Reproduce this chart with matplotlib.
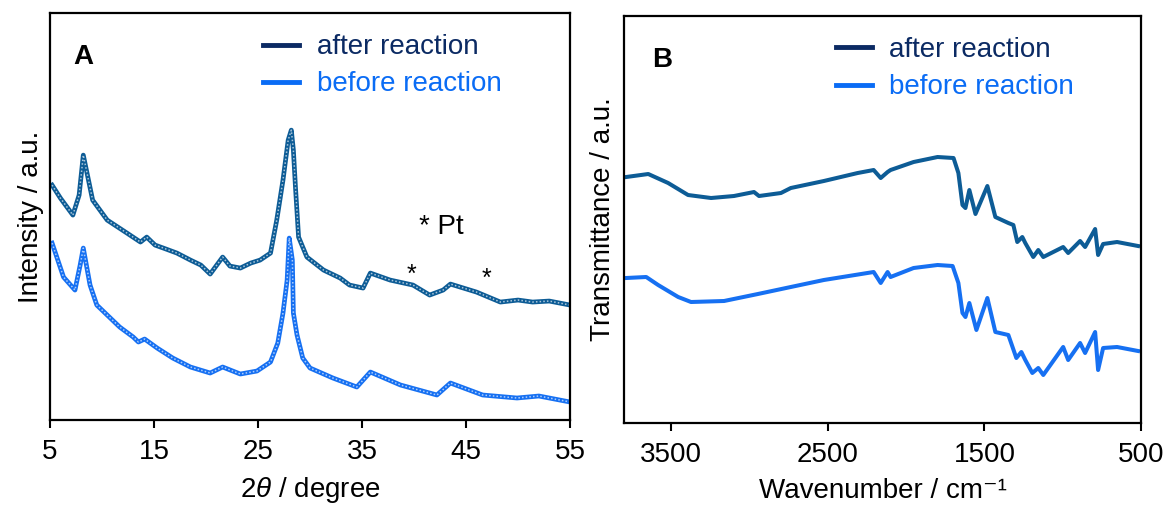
import matplotlib
matplotlib.use('Agg')
import matplotlib.pyplot as plt
from matplotlib.lines import Line2D

plt.rcParams['font.family'] = ['Liberation Sans', 'DejaVu Sans']
plt.rcParams['mathtext.fontset'] = 'custom'
plt.rcParams['mathtext.it'] = 'Liberation Sans:italic'
plt.rcParams['mathtext.rm'] = 'Liberation Sans'

# XRD (panel A), arbitrary units
xrd_2theta_after = [5.2, 6.0, 7.2, 7.8, 8.2, 8.6, 9.1, 10.5, 12.4, 13.7, 14.3, 15.1, 15.9,
                    17.2, 18.5, 19.5, 20.4, 21.6, 22.3, 23.3, 24.3, 25.2, 26.2, 26.8, 27.4,
                    27.9, 28.2, 28.4, 28.6, 28.9, 29.7, 31.3, 32.9, 33.8, 35.1, 35.8, 37.7,
                    39.9, 41.5, 42.8, 43.5, 46.0, 48.3, 50.0, 51.4, 53.0, 55.0]
xrd_after = [235, 222, 205, 225, 265, 245, 220, 200, 187, 178, 183, 175, 172,
             167, 160, 155, 146, 163, 154, 152, 157, 160, 167, 200, 240,
             280, 290, 270, 233, 183, 163, 150, 142, 135, 132, 147, 140,
             135, 125, 130, 136, 128, 118, 120, 118, 119, 115]

xrd_2theta_before = [5.2, 6.3, 7.4, 7.9, 8.2, 8.85, 9.5, 10.5, 11.7, 13.0, 13.5, 14.1, 15.3,
                     16.8, 18.5, 20.4, 21.6, 23.3, 24.9, 26.2, 26.9, 27.4, 27.8, 28.0, 28.3,
                     28.4, 28.75, 29.3, 30.0, 32.2, 34.5, 35.8, 38.7, 42.2, 43.5, 46.6,
                     49.9, 52.0, 55.0]
xrd_before = [177, 143, 130, 155, 172, 135, 115, 105, 93, 83, 78, 81, 72,
              62, 53, 47, 53, 46, 49, 58, 77, 107, 140, 182, 160,
              107, 85, 62, 52, 42, 33, 48, 35, 25, 37, 25,
              22, 24, 18]

# FTIR (panel B)
ir_wn_after = [3787, 3646, 3519, 3392, 3245, 3099, 2971, 2939, 2799, 2736, 2525, 2309, 2207,
               2162, 2118, 2099, 1952, 1799, 1697, 1666, 1640, 1621, 1596, 1557, 1481,
               1430, 1347, 1315, 1290, 1258, 1239, 1188, 1156, 1124, 1035, 997, 965, 889,
               857, 793, 774, 742, 653, 519]
ir_after = [246, 249, 240, 228, 225, 227, 231, 227, 230, 235, 242, 250, 253,
            245, 251, 253, 261, 266, 265, 250, 218, 215, 233, 209, 237,
            206, 200, 198, 181, 186, 180, 166, 173, 166, 173, 176, 170, 182,
            176, 194, 168, 179, 181, 177]

ir_wn_before = [3787, 3659, 3583, 3455, 3373, 3162, 2946, 2736, 2525, 2207, 2162, 2118, 2099,
                1952, 1799, 1703, 1666, 1640, 1621, 1596, 1551, 1481, 1430, 1347, 1296,
                1264, 1239, 1194, 1156, 1124, 997, 965, 889, 857, 793, 774, 742, 653, 519]
ir_before = [145, 146, 138, 126, 121, 122, 129, 136, 143, 151, 140, 151, 146,
             155, 158, 157, 140, 110, 106, 120, 93, 125, 91, 88, 65,
             71, 63, 50, 55, 48, 76, 63, 80, 70, 91, 53, 75, 76, 72]

labels = ['after reaction', 'before reaction']
xrd_ticks = [5, 15, 25, 35, 45, 55]
ir_ticks = [3500, 2500, 1500, 500]

c_after = '#0d5c96'
c_before = '#1670f2'
c_leg_after = '#0b2a63'
c_leg_before = '#0a6cf5'
FS = 20

fig = plt.figure(figsize=(11.71, 5.07), dpi=100)
axA = fig.add_axes([0.0427, 0.1716, 0.4441, 0.8024])
axB = fig.add_axes([0.533, 0.1657, 0.4414, 0.8027])


def style_axes(ax):
    for sp in ax.spines.values():
        sp.set_linewidth(1.6)
    ax.tick_params(axis='x', direction='out', length=6, width=1.5, labelsize=FS, pad=8)
    ax.set_yticks([])


def add_legend(ax, x0):
    handles = [Line2D([], [], color=c_leg_after, lw=3.5),
               Line2D([], [], color=c_leg_before, lw=3.5)]
    ax.legend(handles, labels, loc='upper left', bbox_to_anchor=(x0, 0.948),
              frameon=False, fontsize=FS, handlelength=1.3, handletextpad=0.62,
              labelspacing=0.4, borderpad=0, borderaxespad=0,
              labelcolor=[c_leg_after, c_leg_before])


# panel A: speckled XRD traces
for x, y, c in [(xrd_2theta_after, xrd_after, c_after),
                (xrd_2theta_before, xrd_before, c_before)]:
    axA.plot(x, y, color=c, lw=3.4, solid_joinstyle='round')
    axA.plot(x, y, color='white', lw=1.1, alpha=0.65, ls=(0, (1, 1.4)))
axA.set_xlim(5, 55)
axA.set_ylim(0, 407)
axA.set_xticks(xrd_ticks)
style_axes(axA)
axA.set_xlabel(r'2$\theta$ / degree', fontsize=FS, labelpad=7)
axA.set_ylabel('Intensity / a.u.', fontsize=FS, labelpad=4)
axA.text(0.045, 0.875, 'A', transform=axA.transAxes, fontsize=FS, fontweight='bold')
axA.text(40.5, 186, '* Pt', fontsize=FS)
axA.text(39.8, 138, '*', fontsize=18, ha='center')
axA.text(47.0, 134, '*', fontsize=18, ha='center')
add_legend(axA, 0.41)

# panel B: FTIR
axB.plot(ir_wn_after, ir_after, color=c_after, lw=2.9, solid_joinstyle='round')
axB.plot(ir_wn_before, ir_before, color=c_before, lw=2.9, solid_joinstyle='round')
axB.set_xlim(3800, 500)
axB.set_ylim(0, 407)
axB.set_xticks(ir_ticks)
style_axes(axB)
axB.set_xlabel('Wavenumber / cm⁻¹', fontsize=FS, labelpad=7)
axB.set_ylabel('Transmittance / a.u.', fontsize=FS, labelpad=6)
axB.text(0.055, 0.875, 'B', transform=axB.transAxes, fontsize=FS, fontweight='bold')
add_legend(axB, 0.41)

fig.savefig('out.png', dpi=100)
